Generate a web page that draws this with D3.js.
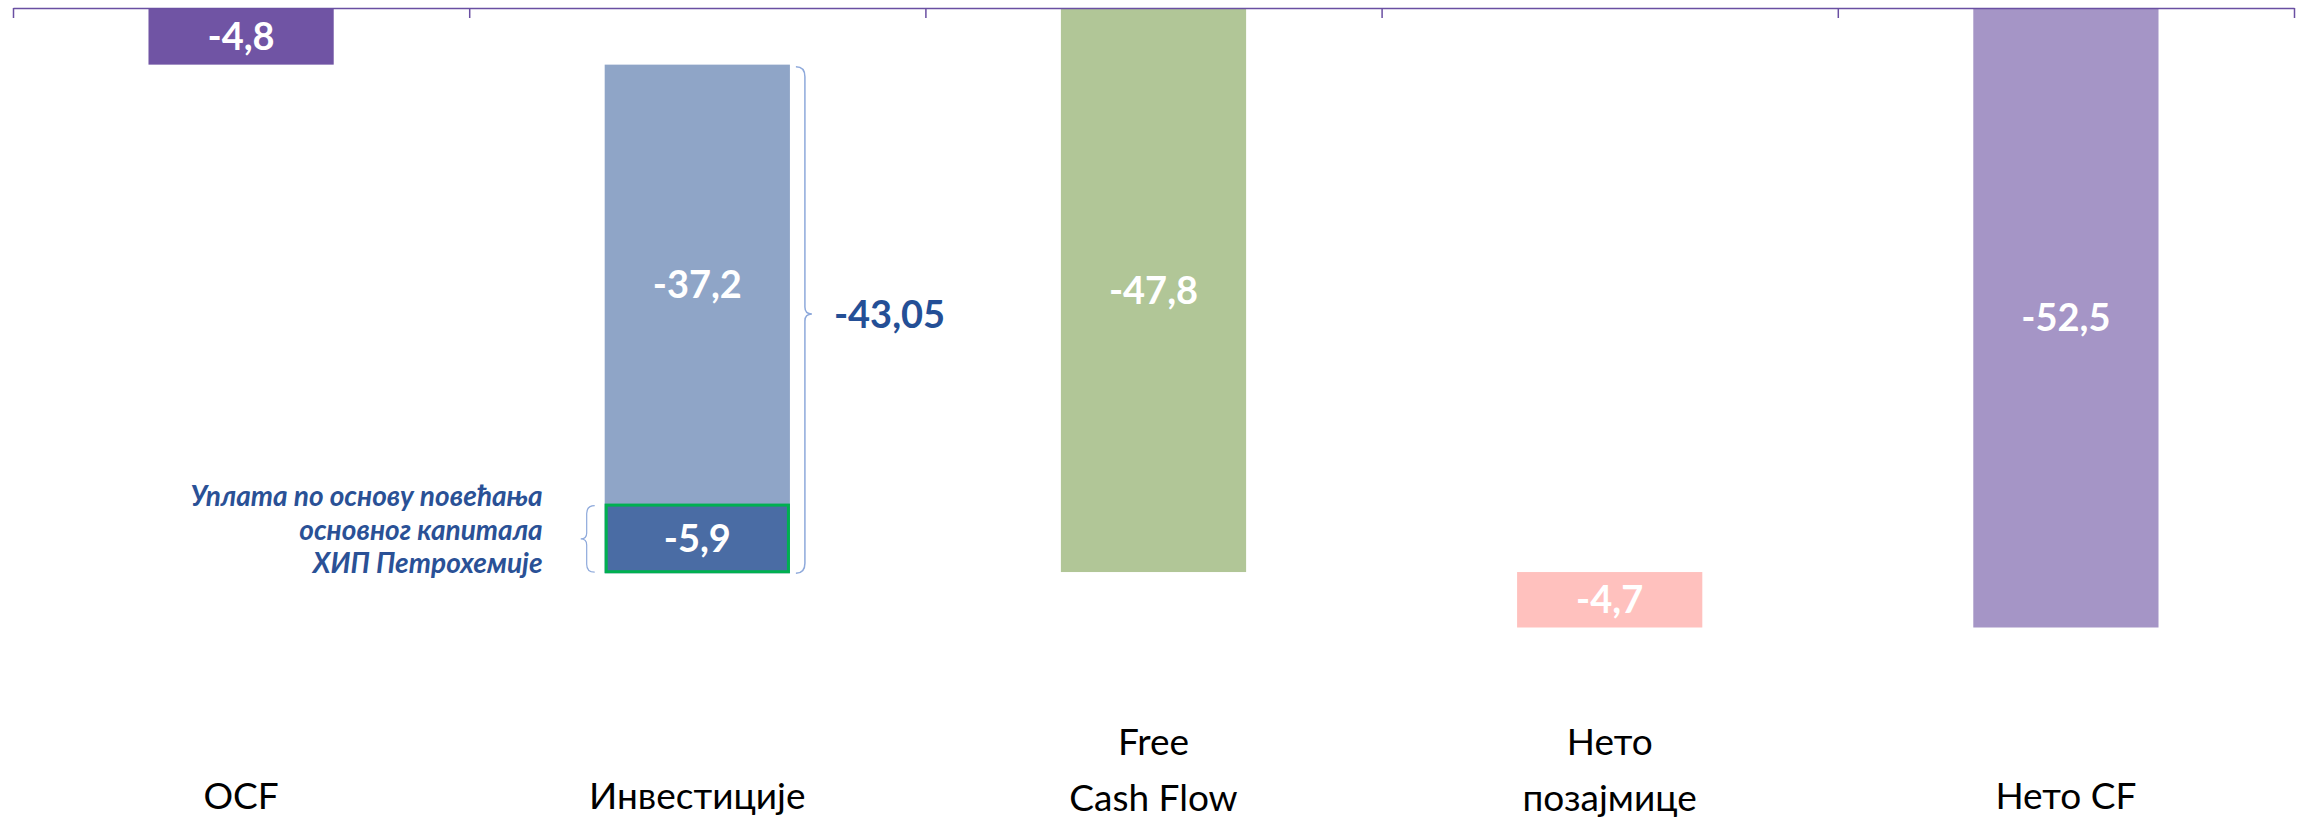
<!DOCTYPE html>
<html lang="sr">
<head>
<meta charset="utf-8">
<script src="https://cdn.jsdelivr.net/npm/d3@7"></script>
<style>
  body { margin: 0; background: #fff; }
  svg { display: block; font-family: Lato, "Noto Sans", sans-serif; }
</style>
</head>
<body>
<div id="chart"></div>
<script>
// categories and waterfall values (mil. EUR)
var categories = ["OCF", "Инвестиције", "Free Cash Flow", "Нето позајмице", "Нето CF"];
var categoryLines = [["OCF"], ["Инвестиције"], ["Free", "Cash Flow"], ["Нето", "позајмице"], ["Нето CF"]];
var barTypes = ["delta", "delta", "total", "delta", "total"];
var barValues = [-4.8, -43.05, -47.8, -4.7, -52.5];
var barColors = ["#7054A4", "#8FA5C7", "#B1C697", "#FFC1BE", "#A595C6"];

// investments split
var investParts = [-37.2, -5.9];
var investColors = ["#8FA5C7", "#4A6CA4"];
var investNote = ["Уплата по основу повећања", "основног капитала", "ХИП Петрохемије"];

var fmt = function(v) { return String(v).replace(".", ","); };

var svgwidth = 2310, svgheight = 818;
var svg = d3.select("#chart").append("svg").attr("width", svgwidth).attr("height", svgheight);

var x = d3.scaleBand().domain(categories).range([13, 2294]).paddingInner(0.594).paddingOuter(0.297);
var y = d3.scaleLinear().domain([0, -60]).range([8, 716]);
var bw = x.bandwidth();

// build segments of the waterfall
var segs = [];
var run = 0;
categories.forEach(function(c, i) {
    var start = barTypes[i] == "total" ? 0 : run;
    if (i == 1) {
        var s = start;
        investParts.forEach(function(p, j) {
            segs.push({cat: c, y0: s, y1: s + p, v: p, color: investColors[j], part: j});
            s += p;
        });
    } else {
        segs.push({cat: c, y0: start, y1: start + barValues[i], v: barValues[i], color: barColors[i]});
    }
    run = start + barValues[i];
});

svg.selectAll("rect.bar").data(segs).enter().append("rect")
    .attr("class", "bar")
    .attr("x", d => x(d.cat))
    .attr("width", bw)
    .attr("y", d => y(Math.max(d.y0, d.y1)))
    .attr("height", d => Math.abs(y(d.y1) - y(d.y0)))
    .attr("fill", d => d.color);

// green outline on the capital increase piece
var dark = segs.filter(d => d.part == 1)[0];
svg.append("rect")
    .attr("x", x(dark.cat) + 1.5).attr("width", bw - 3)
    .attr("y", y(dark.y0) + 1.5).attr("height", Math.abs(y(dark.y1) - y(dark.y0)) - 3)
    .attr("fill", "none").attr("stroke", "#00B050").attr("stroke-width", 3);

// value labels
svg.selectAll("text.val").data(segs).enter().append("text")
    .attr("class", "val")
    .attr("x", d => x(d.cat) + bw / 2)
    .attr("y", d => (y(d.y0) + y(d.y1)) / 2)
    .attr("dy", "0.36em")
    .attr("text-anchor", "middle")
    .attr("fill", "#fff")
    .attr("font-weight", "bold")
    .attr("font-size", 38)
    .text(d => fmt(d.v));

// top axis with ticks between categories
var xi = d3.scaleLinear().domain([0, categories.length]).range([13, 2294]);
var axis = svg.append("g").attr("transform", "translate(0,8)")
    .call(d3.axisBottom(xi).tickValues(d3.range(categories.length + 1)).tickSize(10).tickSizeOuter(0).tickFormat(""));
axis.selectAll("path,line").attr("stroke", "#6A4FA2").attr("stroke-width", 1.5);

// category labels
var cl = svg.selectAll("text.cat").data(categories).enter().append("text")
    .attr("class", "cat")
    .attr("text-anchor", "middle")
    .attr("font-size", 37)
    .attr("fill", "#000");
cl.each(function(c, i) {
    var lines = categoryLines[i];
    var base = lines.length == 1 ? [809] : [755, 811];
    d3.select(this).selectAll("tspan").data(lines).enter().append("tspan")
        .attr("x", x(c) + bw / 2)
        .attr("y", (t, k) => base[k])
        .text(t => t);
});

// brace around the whole investments bar
var inv = categories[1];
var bx = x(inv) + bw + 6;
var bTop = y(barValues[0]) + 2, bBot = y(barValues[0] + investParts[0] + investParts[1]);
var bMid = (bTop + bBot) / 2 - 6;
svg.append("path")
    .attr("d", `M${bx},${bTop} Q${bx + 9},${bTop} ${bx + 9},${bTop + 10} L${bx + 9},${bMid - 7} Q${bx + 9},${bMid} ${bx + 16},${bMid} Q${bx + 9},${bMid} ${bx + 9},${bMid + 7} L${bx + 9},${bBot - 10} Q${bx + 9},${bBot} ${bx},${bBot}`)
    .attr("fill", "none").attr("stroke", "#8EA9DB").attr("stroke-width", 1.5);

svg.append("text")
    .attr("x", bx + 38).attr("y", bMid).attr("dy", "0.36em")
    .attr("font-size", 38).attr("font-weight", "bold").attr("fill", "#244F96")
    .text(fmt(barValues[1]));

// small brace and note for the capital increase piece
var lx = x(inv) - 10;
var t2 = y(dark.y0) + 2, b2 = y(dark.y1) - 1, m2 = (t2 + b2) / 2;
svg.append("path")
    .attr("d", `M${lx},${t2} Q${lx - 8},${t2} ${lx - 8},${t2 + 8} L${lx - 8},${m2 - 6} Q${lx - 8},${m2} ${lx - 14},${m2} Q${lx - 8},${m2} ${lx - 8},${m2 + 6} L${lx - 8},${b2 - 8} Q${lx - 8},${b2} ${lx},${b2}`)
    .attr("fill", "none").attr("stroke", "#8EA9DB").attr("stroke-width", 1.2);

svg.append("text")
    .attr("text-anchor", "end")
    .attr("font-size", 28).attr("font-weight", "bold").attr("font-style", "italic").attr("fill", "#2A5196")
    .selectAll("tspan").data(investNote).enter().append("tspan")
    .attr("x", x(inv) - 62)
    .attr("y", (t, k) => 506 + k * 33.5)
    .text(t => t);
</script>
</body>
</html>
